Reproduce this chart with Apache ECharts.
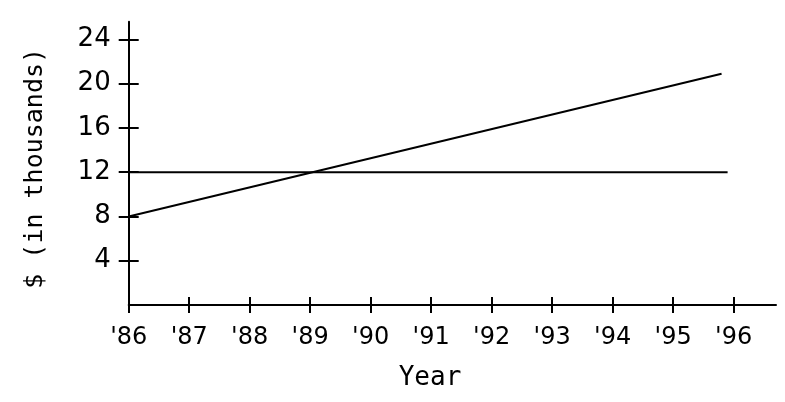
<script src="https://cdn.jsdelivr.net/npm/echarts@6/dist/echarts.min.js"></script>
<style>
  html, body { margin: 0; padding: 0; background: #fff; }
  #myChart { width: 785px; height: 402px; }
</style>
<div id="myChart"></div>
<script type="text/javascript">

  // data
  var risingYears = [1986, 1995.8];
  var risingValues = [8, 20.9];
  var flatYears = [1986, 1995.9];
  var flatValues = [12, 12];
  var yearTicks = [1986, 1987, 1988, 1989, 1990, 1991, 1992, 1993, 1994, 1995, 1996];
  var valueTicks = [4, 8, 12, 16, 20, 24];

  var chartDom = document.getElementById("myChart");
  var myChart = echarts.init(chartDom);

  var ink = "#000";
  var labelFont = "DejaVu Sans";
  var nameFont = "DejaVu Sans Mono";

  function pairs(xs, ys) {
    return xs.map(function (x, i) { return [x, ys[i]]; });
  }

  function yearLabel(v) {
    return "'" + String(v).slice(2);
  }

  // no label at the origin
  function valueLabel(v) {
    return v === 0 ? "" : String(v);
  }

  var xBase = {
    type: "value",
    min: 1986,
    max: 1996.7,
    position: "bottom",
    splitLine: { show: false },
    axisLine: { onZero: false, lineStyle: { color: ink, width: 2 } }
  };

  var yBase = {
    type: "value",
    min: 0,
    max: 25.6,
    interval: 4,
    position: "left",
    splitLine: { show: false },
    axisLine: { onZero: false, lineStyle: { color: ink, width: 2 } }
  };

  var option = {
    backgroundColor: "#fff",
    animation: false,
    grid: { left: 128.7, right: 9, top: 21.7, bottom: 97 },
    xAxis: [
      Object.assign({}, xBase, {
        axisTick: { customValues: yearTicks, length: 8, lineStyle: { color: ink, width: 2 } },
        axisLabel: {
          customValues: yearTicks,
          formatter: yearLabel,
          showMinLabel: true,
          showMaxLabel: true,
          color: ink,
          fontFamily: labelFont,
          fontSize: 24,
          margin: 9
        }
      }),
      // second copy only for the inner half of each tick
      Object.assign({}, xBase, {
        axisLine: { show: false, onZero: false },
        axisTick: { customValues: yearTicks, inside: true, length: 8, lineStyle: { color: ink, width: 2 } },
        axisLabel: { show: false }
      })
    ],
    yAxis: [
      Object.assign({}, yBase, {
        name: "$ (in thousands)",
        nameLocation: "middle",
        nameRotate: 90,
        nameGap: 71,
        nameTextStyle: { color: ink, fontFamily: nameFont, fontSize: 25, padding: [0, 10, 0, 0] },
        axisTick: { customValues: valueTicks, length: 10, lineStyle: { color: ink, width: 2 } },
        axisLabel: {
          formatter: valueLabel,
          color: ink,
          fontFamily: labelFont,
          fontSize: 26,
          margin: 18
        }
      }),
      Object.assign({}, yBase, {
        axisLine: { show: false, onZero: false },
        axisTick: { customValues: valueTicks, inside: true, length: 10, lineStyle: { color: ink, width: 2 } },
        axisLabel: { show: false }
      })
    ],
    graphic: [
      {
        type: "text",
        x: 430,
        y: 378,
        style: {
          text: "Year",
          fill: ink,
          font: "26px '" + nameFont + "'",
          textAlign: "center",
          textVerticalAlign: "middle"
        }
      }
    ],
    series: [
      {
        type: "line",
        data: pairs(risingYears, risingValues),
        showSymbol: false,
        lineStyle: { color: ink, width: 2 }
      },
      {
        type: "line",
        data: pairs(flatYears, flatValues),
        showSymbol: false,
        lineStyle: { color: ink, width: 2 }
      }
    ]
  };

  option && myChart.setOption(option);
</script>
